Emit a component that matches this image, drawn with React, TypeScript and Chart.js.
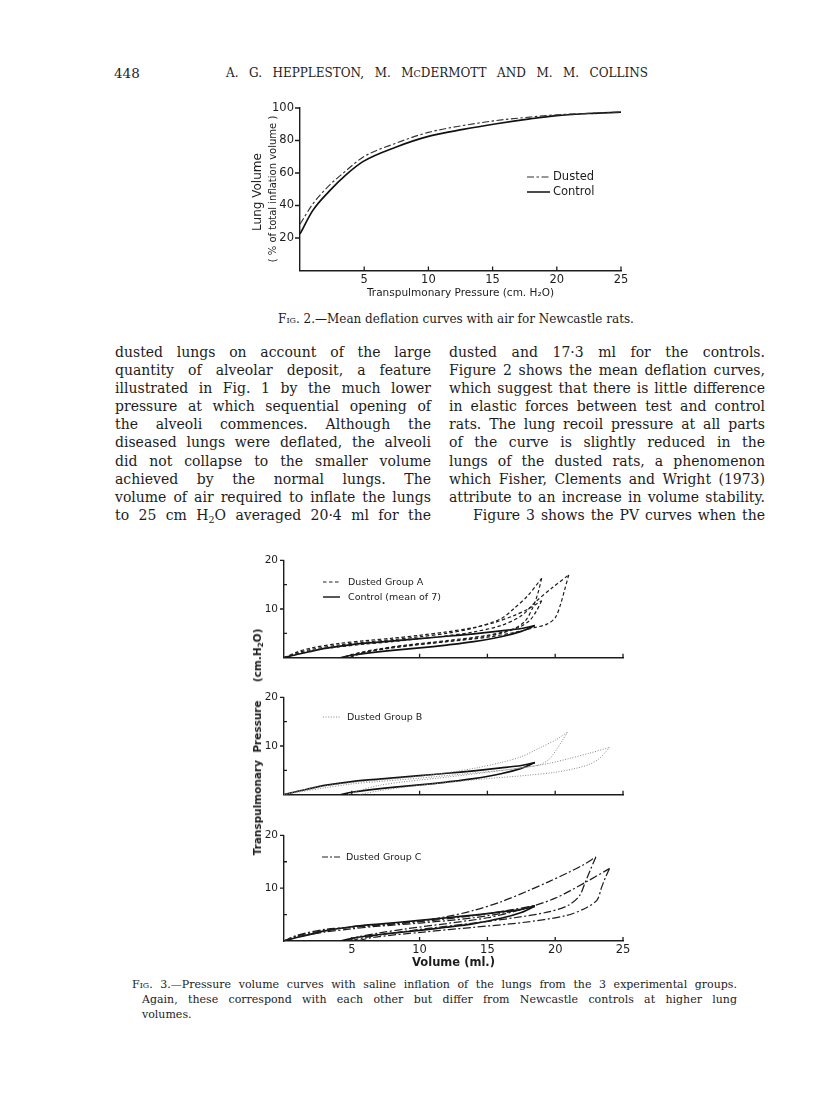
import React, { useEffect, useRef } from 'react';
import { Chart, registerables } from 'chart.js';

Chart.register(...registerables);

// ---------------- Fig. 2 data (deflation curves) ----------------
const fig2Pressure = [0, 1, 2.3, 3.6, 4.9, 7.5, 10, 12.7, 15.3, 17.9, 20, 22.5, 25];
const fig2Control = [22.5, 37, 49, 59, 67, 76, 82.5, 86.8, 90.3, 93.3, 95.3, 96.6, 97.5];
const fig2Dusted = [28.5, 41, 52.5, 61.5, 69.7, 78.4, 85, 89.2, 92.3, 94.4, 95.8, 96.7, 97.5];
const fig2XTicks = [5, 10, 15, 20, 25];
const fig2YTicks = [20, 40, 60, 80, 100];

// ---------------- Fig. 3 data (pressure-volume loops) ----------------
const fig3XTicks = [5, 10, 15, 20, 25];
const fig3YLabelTicks = [10, 20];
const fig3YMinorTicks = [5, 15];

// Control (mean of 7) – same in all panels
const ctrlInflV = [0, 1, 2, 3, 5, 7, 10, 12, 14, 16, 17.5, 18.5];
const ctrlInflP = [0, 0.7, 1.3, 1.9, 2.7, 3.2, 3.9, 4.4, 4.9, 5.5, 6.0, 6.6];
const ctrlDeflV = [18.5, 17.5, 16, 14, 12, 10, 8, 6, 5, 4.2];
const ctrlDeflP = [6.6, 5.4, 4.3, 3.3, 2.6, 2.0, 1.5, 0.9, 0.5, 0];

// Dusted group A
const a1InflV = [0, 1, 2, 4, 6, 8, 10, 12, 14, 16, 17, 18, 19];
const a1InflP = [0, 1.0, 1.7, 2.6, 3.2, 3.7, 4.3, 5.0, 6.1, 8.0, 10.2, 12.8, 16.3];
const a1DeflV = [19, 18.7, 18.3, 17.8, 17, 15, 12, 9, 7, 5.5, 4.3];
const a1DeflP = [16.3, 13, 10, 7.6, 6.0, 4.6, 3.5, 2.6, 1.8, 1.0, 0];
const a2InflV = [0, 1, 2, 4, 6, 8, 10, 12, 14, 16, 17.5, 18.6, 19.8, 21];
const a2InflP = [0, 0.8, 1.4, 2.2, 2.8, 3.3, 3.9, 4.5, 5.3, 6.6, 8.6, 11.6, 14.4, 17];
const a2DeflV = [21, 20.7, 20.4, 20.0, 19.4, 18.5, 17, 15, 12, 9, 7, 5.5, 4.2];
const a2DeflP = [17, 14, 11, 8.2, 6.9, 6.2, 5.2, 4.2, 3.3, 2.5, 1.7, 0.9, 0];
const a3InflV = [0, 1, 2, 4, 6, 8, 10, 12, 14, 15.5, 17, 18, 19];
const a3InflP = [0, 1.2, 2.0, 2.9, 3.5, 4.0, 4.6, 5.3, 6.2, 7.2, 8.7, 10.0, 11.7];
const a3DeflV = [19, 18.6, 18.1, 17.3, 16, 14, 11, 8, 6, 4.8];
const a3DeflP = [11.7, 9.5, 7.6, 6.2, 5.0, 4.0, 3.0, 2.0, 1.1, 0];

// Dusted group B
const b1InflV = [0, 1, 3, 5, 7, 10, 12, 14, 16, 17.5, 19, 20, 20.9];
const b1InflP = [0, 0.7, 1.8, 2.5, 3.0, 3.8, 4.5, 5.4, 6.6, 7.8, 9.8, 11.2, 12.8];
const b1DeflV = [20.9, 20.5, 20.1, 19.6, 18.9, 17.5, 15, 12, 9, 7, 5.5, 4.7];
const b1DeflP = [12.8, 11, 9.3, 7.4, 6.2, 5.5, 4.6, 3.6, 2.7, 1.9, 0.8, 0];
const b2InflV = [0, 1, 3, 5, 7, 10, 13, 16, 18, 19.5, 21, 22.5, 24];
const b2InflP = [0, 0.5, 1.4, 2.2, 2.7, 3.4, 4.2, 5.0, 5.7, 6.4, 7.4, 8.5, 9.7];
const b2DeflV = [24, 23.6, 23.2, 22.5, 21.5, 20, 18, 15, 12, 9, 7, 5.5];
const b2DeflP = [9.7, 8.4, 7.3, 6.2, 5.4, 4.6, 4.0, 3.3, 2.5, 1.6, 0.8, 0];

// Dusted group C
const c1InflV = [0, 1, 3, 5, 7, 10, 12, 14, 16, 18, 19.5, 21, 22, 23];
const c1InflP = [0, 1.0, 2.0, 2.6, 3.0, 3.8, 4.6, 5.8, 7.4, 9.5, 11.2, 13.0, 14.3, 15.9];
const c1DeflV = [23, 22.6, 22.2, 21.8, 21, 19.5, 17, 14, 11, 8, 6, 4.9];
const c1DeflP = [15.9, 13.5, 11, 8.6, 6.8, 5.5, 4.4, 3.4, 2.5, 1.5, 0.7, 0];
const c2InflV = [0, 1, 3, 5, 7, 10, 14, 17.5, 20, 22.3, 24];
const c2InflP = [0, 0.8, 1.7, 2.3, 2.8, 3.4, 4.4, 6.0, 8.1, 11.2, 13.7];
const c2DeflV = [24, 23.7, 23.4, 23.1, 22.3, 20.8, 17.6, 14, 10.3, 6.6, 5.4];
const c2DeflP = [13.7, 12, 10, 7.8, 6.3, 4.8, 3.5, 2.6, 1.7, 0.7, 0];
const c3InflV = [0, 1, 3, 5, 8, 11, 14, 16.5, 18.5];
const c3InflP = [0, 1.1, 2.2, 2.6, 3.2, 3.9, 4.8, 5.8, 6.7];
const c3DeflV = [18.5, 17, 15, 12, 9, 7, 5.5, 4.5];
const c3DeflP = [6.7, 5.6, 4.4, 3.3, 2.3, 1.5, 0.8, 0];

// ---------------- text ----------------
const leftLines = [
  'dusted lungs on account of the large',
  'quantity of alveolar deposit, a feature',
  'illustrated in Fig. 1 by the much lower',
  'pressure at which sequential opening of',
  'the alveoli commences. Although the',
  'diseased lungs were deflated, the alveoli',
  'did not collapse to the smaller volume',
  'achieved by the normal lungs. The',
  'volume of air required to inflate the lungs',
  'to 25 cm H@O averaged 20·4 ml for the',
];
const rightLines = [
  'dusted and 17·3 ml for the controls.',
  'Figure 2 shows the mean deflation curves,',
  'which suggest that there is little difference',
  'in elastic forces between test and control',
  'rats. The lung recoil pressure at all parts',
  'of the curve is slightly reduced in the',
  'lungs of the dusted rats, a phenomenon',
  'which Fisher, Clements and Wright (1973)',
  'attribute to an increase in volume stability.',
  'Figure 3 shows the PV curves when the',
];

const INK = '#1c1c1c';
const SANS = '"DejaVu Sans", sans-serif';
const SERIF = '"DejaVu Serif", serif';

const pts = (xs: number[], ys: number[]) => xs.map((x, i) => ({ x, y: ys[i] }));

type TickOpts = { xTicks: number[]; xLen: number; yOut: number[]; yOutLen: number; yIn: number[]; yInLen: number };
const makeTicks = (o: TickOpts) => ({
  id: 'pageTicks',
  afterDraw(chart: any) {
    const { ctx } = chart;
    const x = chart.scales.x;
    const y = chart.scales.y;
    ctx.save();
    ctx.strokeStyle = INK;
    ctx.lineWidth = 1.3;
    ctx.setLineDash([]);
    ctx.beginPath();
    o.xTicks.forEach((v) => {
      const px = x.getPixelForValue(v);
      ctx.moveTo(px, y.bottom);
      ctx.lineTo(px, y.bottom - o.xLen);
    });
    o.yOut.forEach((v) => {
      const py = y.getPixelForValue(v);
      ctx.moveTo(x.left, py);
      ctx.lineTo(x.left - o.yOutLen, py);
    });
    o.yIn.forEach((v) => {
      const py = y.getPixelForValue(v);
      ctx.moveTo(x.left, py);
      ctx.lineTo(x.left + o.yInLen, py);
    });
    ctx.stroke();
    ctx.restore();
  },
});

type LegendItem = { x1: number; x2: number; y: number; tx: number; text: string; dash: number[]; color: string; width: number };
const makeLegend = (ox: number, oy: number, font: string, items: LegendItem[]) => ({
  id: 'pageLegend',
  afterDraw(chart: any) {
    const { ctx } = chart;
    ctx.save();
    items.forEach((it) => {
      ctx.beginPath();
      ctx.setLineDash(it.dash);
      ctx.strokeStyle = it.color;
      ctx.lineWidth = it.width;
      ctx.moveTo(it.x1 - ox, it.y - oy);
      ctx.lineTo(it.x2 - ox, it.y - oy);
      ctx.stroke();
      ctx.setLineDash([]);
      ctx.fillStyle = INK;
      ctx.font = font;
      ctx.textAlign = 'left';
      ctx.textBaseline = 'middle';
      ctx.fillText(it.text, it.tx - ox, it.y - oy + 0.5);
    });
    ctx.restore();
  },
});

function ChartBox({ left, top, width, height, make }: { left: number; top: number; width: number; height: number; make: () => any }) {
  const ref = useRef<HTMLCanvasElement>(null);
  useEffect(() => {
    const chart = new Chart(ref.current as HTMLCanvasElement, make());
    return () => chart.destroy();
  }, []);
  return <canvas ref={ref} width={width} height={height} style={{ position: 'absolute', left, top, width, height }} />;
}

const styleControl = { borderColor: '#111', borderWidth: 1.7, borderDash: [] as number[] };
const styleA = { borderColor: '#1e1e1e', borderWidth: 1.2, borderDash: [3.5, 2.5] };
const styleB = { borderColor: '#888', borderWidth: 1, borderDash: [1, 1.6] };
const styleC = { borderColor: '#1e1e1e', borderWidth: 1.25, borderDash: [8, 2.5, 2, 2.5] };
const styleDusted2 = { borderColor: '#333', borderWidth: 1.15, borderDash: [7, 2.5, 2.5, 2.5] };

const line = (label: string, xs: number[], ys: number[], style: any, tension = 0.3) => ({
  label,
  data: pts(xs, ys),
  showLine: true,
  pointRadius: 0,
  fill: false,
  tension,
  ...style,
});

// ---------- Fig 2 ----------
const F2 = { left: 230, top: 95, width: 410, height: 210 };
function makeFig2() {
  return {
    type: 'scatter',
    data: {
      datasets: [
        { ...line('Dusted', fig2Pressure, fig2Dusted, styleDusted2), cubicInterpolationMode: 'monotone' },
        { ...line('Control', fig2Pressure, fig2Control, styleControl), cubicInterpolationMode: 'monotone' },
      ],
    },
    options: {
      animation: false,
      responsive: false,
      maintainAspectRatio: false,
      layout: { padding: { top: 13, right: 19, bottom: 0, left: 0 } },
      plugins: { legend: { display: false }, tooltip: { enabled: false } },
      scales: {
        x: {
          type: 'linear',
          min: 0,
          max: 25,
          grid: { display: false, drawTicks: false },
          border: { display: true, color: INK, width: 1.4 },
          ticks: {
            stepSize: 5,
            padding: 3,
            color: INK,
            maxRotation: 0,
            autoSkip: false,
            font: { family: SANS, size: 11.5 },
            callback: (v: any) => (v === 0 ? '' : String(v)),
          },
          title: {
            display: true,
            text: 'Transpulmonary Pressure (cm. H\u2082O)',
            color: INK,
            font: { family: SANS, size: 10.5 },
            padding: { top: 0, bottom: 5 },
          },
          afterFit: (s: any) => {
            s.height = 34.5;
          },
        },
        y: {
          type: 'linear',
          min: 0,
          max: 100,
          grid: { display: false, drawTicks: false },
          border: { display: true, color: INK, width: 1.4 },
          ticks: {
            stepSize: 20,
            padding: 6,
            color: INK,
            font: { family: SANS, size: 11.5 },
            callback: (v: any) => (v === 0 ? '' : String(v)),
          },
          afterFit: (s: any) => {
            s.width = 70;
          },
        },
      },
    },
    plugins: [
      makeTicks({ xTicks: fig2XTicks, xLen: 4, yOut: fig2YTicks, yOutLen: 5, yIn: [], yInLen: 0 }),
      makeLegend(F2.left, F2.top, `11.5px ${SANS}`, [
        { x1: 527, x2: 550, y: 177, tx: 553, text: 'Dusted', dash: styleDusted2.borderDash, color: '#333', width: 1.1 },
        { x1: 527, x2: 550, y: 192, tx: 553, text: 'Control', dash: [], color: '#111', width: 1.5 },
      ]),
    ],
  };
}

// ---------- Fig 3 panels ----------
const controlSets = () => [
  line('Control inflation', ctrlInflV, ctrlInflP, styleControl),
  line('Control deflation', ctrlDeflV, ctrlDeflP, styleControl),
];

function makePanel(datasets: any[], legend: LegendItem[], left: number, top: number, bottom: boolean) {
  return {
    type: 'scatter',
    data: { datasets },
    options: {
      animation: false,
      responsive: false,
      maintainAspectRatio: false,
      layout: { padding: { top: 8, right: 17, bottom: bottom ? 0 : 2, left: 0 } },
      plugins: { legend: { display: false }, tooltip: { enabled: false } },
      scales: {
        x: {
          type: 'linear',
          min: 0,
          max: 25,
          grid: { display: false, drawTicks: false },
          border: { display: true, color: INK, width: 1.4 },
          ticks: {
            display: bottom,
            stepSize: 5,
            padding: 2,
            color: INK,
            maxRotation: 0,
            autoSkip: false,
            font: { family: SANS, size: 11.5 },
            callback: (v: any) => (v === 0 ? '' : String(v)),
          },
          title: {
            display: bottom,
            text: 'Volume (ml.)',
            color: INK,
            font: { family: SANS, size: 11.5, weight: 'bold' },
            padding: { top: 0, bottom: 2 },
          },
          afterFit: (s: any) => {
            s.height = bottom ? 31 : 2;
          },
        },
        y: {
          type: 'linear',
          min: 0,
          max: 20,
          grid: { display: false, drawTicks: false },
          border: { display: true, color: INK, width: 1.4 },
          ticks: {
            stepSize: 10,
            padding: 6,
            color: INK,
            font: { family: SANS, size: 10.5 },
            callback: (v: any) => (v === 0 ? '' : String(v)),
          },
          afterFit: (s: any) => {
            s.width = 44;
          },
        },
      },
    },
    plugins: [
      makeTicks({ xTicks: fig3XTicks, xLen: 4, yOut: fig3YLabelTicks, yOutLen: 4, yIn: fig3YMinorTicks, yInLen: 3 }),
      makeLegend(left, top, `9.5px ${SANS}`, legend),
    ],
  };
}

const P1 = { left: 240, top: 548, width: 400, height: 122 };
const P2 = { left: 240, top: 685, width: 400, height: 122 };
const P3 = { left: 240, top: 823, width: 400, height: 149 };

const makeP1 = () =>
  makePanel(
    [
      line('A1 inflation', a1InflV, a1InflP, styleA),
      line('A1 deflation', a1DeflV, a1DeflP, styleA),
      line('A2 inflation', a2InflV, a2InflP, styleA),
      line('A2 deflation', a2DeflV, a2DeflP, styleA),
      line('A3 inflation', a3InflV, a3InflP, styleA),
      line('A3 deflation', a3DeflV, a3DeflP, styleA),
      ...controlSets(),
    ],
    [
      { x1: 323, x2: 340, y: 582, tx: 348, text: 'Dusted Group A', dash: styleA.borderDash, color: '#222', width: 1.1 },
      { x1: 323, x2: 340, y: 597, tx: 348, text: 'Control (mean of 7)', dash: [], color: '#111', width: 1.4 },
    ],
    P1.left,
    P1.top,
    false
  );

const makeP2 = () =>
  makePanel(
    [
      line('B1 inflation', b1InflV, b1InflP, styleB),
      line('B1 deflation', b1DeflV, b1DeflP, styleB),
      line('B2 inflation', b2InflV, b2InflP, styleB),
      line('B2 deflation', b2DeflV, b2DeflP, styleB),
      ...controlSets(),
    ],
    [{ x1: 323, x2: 340, y: 717, tx: 347, text: 'Dusted Group B', dash: styleB.borderDash, color: '#888', width: 1 }],
    P2.left,
    P2.top,
    false
  );

const makeP3 = () =>
  makePanel(
    [
      line('C1 inflation', c1InflV, c1InflP, styleC),
      line('C1 deflation', c1DeflV, c1DeflP, styleC),
      line('C2 inflation', c2InflV, c2InflP, styleC),
      line('C2 deflation', c2DeflV, c2DeflP, styleC),
      line('C3 inflation', c3InflV, c3InflP, styleC),
      line('C3 deflation', c3DeflV, c3DeflP, styleC),
      ...controlSets(),
    ],
    [{ x1: 322, x2: 340, y: 857, tx: 346, text: 'Dusted Group C', dash: [6, 2, 2, 2], color: '#222', width: 1.1 }],
    P3.left,
    P3.top,
    true
  );

// ---------- text helpers ----------
function renderLine(s: string) {
  const parts = s.split('@');
  if (parts.length === 1) return s;
  return (
    <>
      {parts[0]}
      <span style={{ fontSize: '0.68em', position: 'relative', top: '0.3em', lineHeight: 0 }}>2</span>
      {parts[1]}
    </>
  );
}

function Column({ lines, left, top, width, lh, indentLast }: { lines: string[]; left: number; top: number; width: number; lh: number; indentLast?: number }) {
  return (
    <div style={{ position: 'absolute', left, top, width, fontFamily: SERIF, fontSize: 14, color: INK }}>
      {lines.map((l, i) => (
        <div
          key={i}
          style={{
            height: lh,
            lineHeight: `${lh}px`,
            textAlign: 'justify',
            textAlignLast: 'justify',
            paddingLeft: indentLast && i === lines.length - 1 ? indentLast : 0,
          }}
        >
          {renderLine(l)}
        </div>
      ))}
    </div>
  );
}

const rot = (cx: number, cy: number): React.CSSProperties => ({
  position: 'absolute',
  left: cx,
  top: cy,
  transform: 'translate(-50%, -50%) rotate(-90deg)',
  whiteSpace: 'nowrap',
  color: INK,
  fontFamily: SANS,
});

export default function App() {
  useEffect(() => {
    document.body.style.margin = '0';
  }, []);
  return (
    <div style={{ position: 'absolute', left: 0, top: 0, width: 816, height: 1095, background: '#fff', overflow: 'hidden' }}>
      {/* running head */}
      <div style={{ position: 'absolute', left: 114, top: 64, fontFamily: SERIF, fontSize: 13.5, color: INK, lineHeight: '18px' }}>448</div>
      <div
        style={{
          position: 'absolute',
          left: 226,
          top: 64,
          width: 422,
          fontFamily: SERIF,
          fontSize: 12,
          color: INK,
          lineHeight: '18px',
          textAlign: 'justify',
          textAlignLast: 'justify',
          whiteSpace: 'nowrap',
        }}
      >
        A. G. HEPPLESTON, M. M<span style={{ fontSize: 9.5 }}>C</span>DERMOTT AND M. M. COLLINS
      </div>

      {/* Fig 2 */}
      <ChartBox {...F2} make={makeFig2} />
      <div style={{ ...rot(257, 192), fontSize: 12 }}>Lung Volume</div>
      <div style={{ ...rot(272, 189), fontSize: 10 }}>( % of total inflation volume )</div>
      <div style={{ position: 'absolute', left: 0, width: 912, top: 311, textAlign: 'center', fontFamily: SERIF, fontSize: 12, color: INK, lineHeight: '16px' }}>
        <span style={{ fontVariant: 'small-caps' }}>Fig.</span> 2.—Mean deflation curves with air for Newcastle rats.
      </div>

      {/* body text */}
      <Column lines={leftLines} left={115} top={343} width={316} lh={18.1} />
      <Column lines={rightLines} left={449} top={343} width={316} lh={18.1} indentLast={24} />

      {/* Fig 3 */}
      <ChartBox {...P1} make={makeP1} />
      <ChartBox {...P2} make={makeP2} />
      <ChartBox {...P3} make={makeP3} />
      <div style={{ ...rot(257, 742), fontSize: 10.5, fontWeight: 'bold' }}>
        Transpulmonary&nbsp;&nbsp;Pressure&nbsp;&nbsp;&nbsp;&nbsp;&nbsp;(cm.H<span style={{ fontSize: '0.7em', position: 'relative', top: '0.3em' }}>2</span>O)
      </div>

      {/* Fig 3 caption */}
      <div style={{ position: 'absolute', left: 132, top: 977, width: 605, fontFamily: SERIF, fontSize: 11, color: INK, lineHeight: '15px' }}>
        <div style={{ textAlign: 'justify', textAlignLast: 'justify', height: 15 }}>
          <span style={{ fontVariant: 'small-caps' }}>Fig.</span> 3.—Pressure volume curves with saline inflation of the lungs from the 3 experimental groups.
        </div>
        <div style={{ textAlign: 'justify', textAlignLast: 'justify', height: 15, paddingLeft: 10 }}>
          Again, these correspond with each other but differ from Newcastle controls at higher lung
        </div>
        <div style={{ height: 15, paddingLeft: 10 }}>volumes.</div>
      </div>
    </div>
  );
}
